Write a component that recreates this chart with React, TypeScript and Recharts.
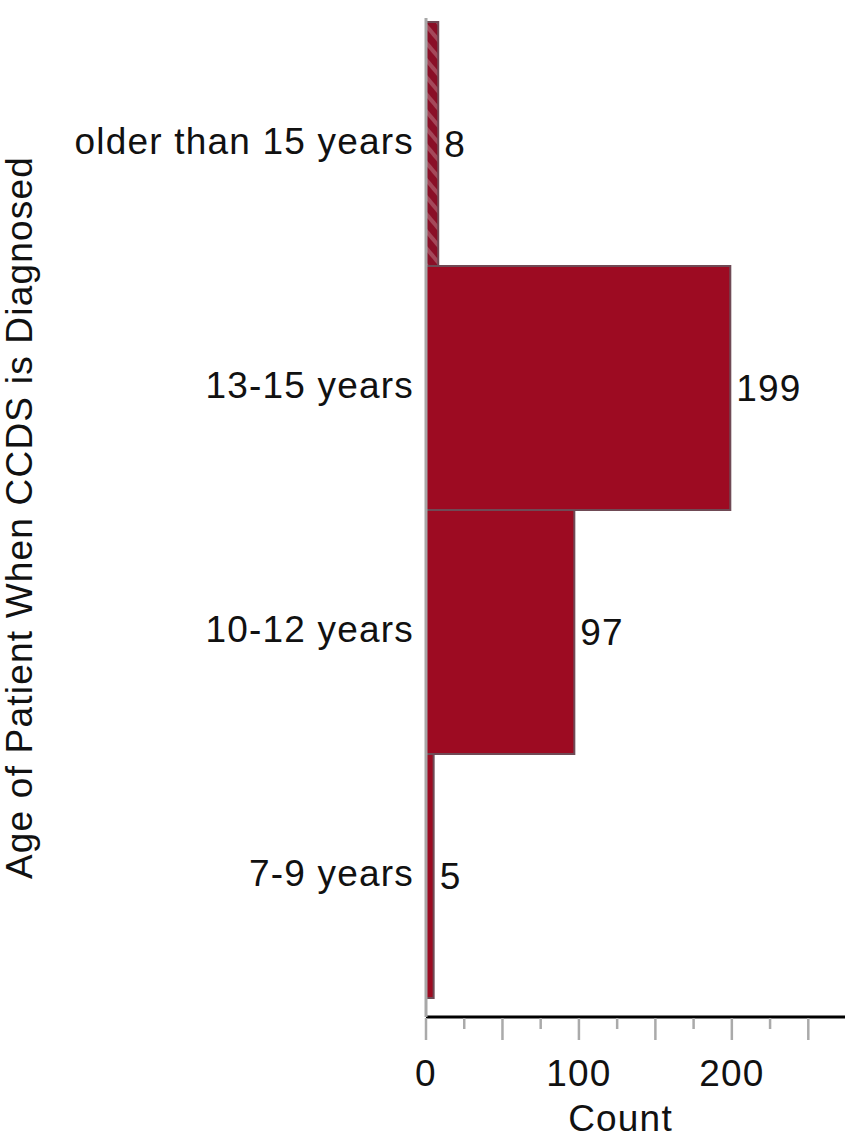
import { BarChart, Bar, XAxis, YAxis, Cell, LabelList } from "recharts";

const AGE_GROUPS = ["older than 15 years", "13-15 years", "10-12 years", "7-9 years"];
const COUNTS = [8, 199, 97, 5];
const COUNT_TICKS = [0, 25, 50, 75, 100, 125, 150, 175, 200, 225, 250];
const LABELED_TICKS = [0, 100, 200];
const HATCHED_GROUPS = ["older than 15 years"];

const data = AGE_GROUPS.map((age, i) => ({ age, count: COUNTS[i] }));

const FONT = "'Liberation Sans', Arial, Helvetica, sans-serif";
const FONT_SIZE = 37;
const SPACING = 1.2;

function CountTick({ x, y, payload }: any) {
  const v = payload.value as number;
  const major = v % 50 === 0;
  return (
    <g>
      <line x1={x} x2={x} y1={y + 1} y2={y + (major ? 23 : 12)} stroke="#aaaaaa" strokeWidth={2.5} />
      {LABELED_TICKS.includes(v) && (
        <text x={x} y={y + 69} textAnchor="middle" fontFamily={FONT} fontSize={FONT_SIZE} letterSpacing={SPACING} fill="#111">
          {v}
        </text>
      )}
    </g>
  );
}

function AgeTick({ x, y, payload }: any) {
  return (
    <text x={x} y={y} dy={10} textAnchor="end" fontFamily={FONT} fontSize={FONT_SIZE} letterSpacing={SPACING} fill="#111">
      {payload.value}
    </text>
  );
}

function ValueLabel({ x, y, width, height, value }: any) {
  return (
    <text x={x + width + 6} y={y + height / 2} dy={13} fontFamily={FONT} fontSize={FONT_SIZE} letterSpacing={SPACING} fill="#111">
      {value}
    </text>
  );
}

function YTitle({ viewBox }: any) {
  const cx = viewBox.x + 32;
  const cy = viewBox.y + viewBox.height / 2;
  return (
    <text x={cx} y={cy} transform={`rotate(-90, ${cx}, ${cy})`} textAnchor="middle" fontFamily={FONT} fontSize={FONT_SIZE} letterSpacing={SPACING} fill="#111">
      Age of Patient When CCDS is Diagnosed
    </text>
  );
}

function XTitle({ viewBox }: any) {
  const cx = viewBox.x + viewBox.width / 2 - 15;
  return (
    <text x={cx} y={viewBox.y + 114} textAnchor="middle" fontFamily={FONT} fontSize={FONT_SIZE} letterSpacing={SPACING} fill="#111">
      Count
    </text>
  );
}

export default function App() {
  return (
    <div style={{ position: "absolute", left: 0, top: 0, width: 851, height: 1140, background: "#fff" }}>
      <BarChart
        width={851}
        height={1140}
        data={data}
        layout="vertical"
        barCategoryGap={0}
        margin={{ top: 18, right: 6, bottom: 0, left: 0 }}
      >
        <defs>
          <pattern id="hatch" patternUnits="userSpaceOnUse" width="11" height="11" patternTransform="rotate(-40)">
            <rect width="11" height="11" fill="#8a0f27" />
            <rect width="4" height="11" fill="#a4485a" />
          </pattern>
        </defs>
        <XAxis
          type="number"
          dataKey="count"
          domain={[0, 274]}
          ticks={COUNT_TICKS}
          interval={0}
          allowDataOverflow
          height={123}
          tickSize={0}
          tickMargin={0}
          tickLine={false}
          tick={<CountTick />}
          axisLine={{ stroke: "#000", strokeWidth: 3 }}
          label={{ content: <XTitle /> }}
        />
        <Bar dataKey="count" fill="#9d0b22" stroke="#6f4a55" strokeWidth={2} isAnimationActive={false}>
          {data.map((d) => (
            <Cell key={d.age} fill={HATCHED_GROUPS.includes(d.age) ? "url(#hatch)" : "#9d0b22"} />
          ))}
          <LabelList dataKey="count" content={<ValueLabel />} />
        </Bar>
        <YAxis
          type="category"
          dataKey="age"
          width={426}
          padding={{ top: 4, bottom: 19 }}
          tickSize={0}
          tickMargin={12}
          tickLine={false}
          tick={<AgeTick />}
          axisLine={{ stroke: "#a8a8a8", strokeWidth: 3 }}
          label={{ content: <YTitle /> }}
        />
      </BarChart>
    </div>
  );
}
